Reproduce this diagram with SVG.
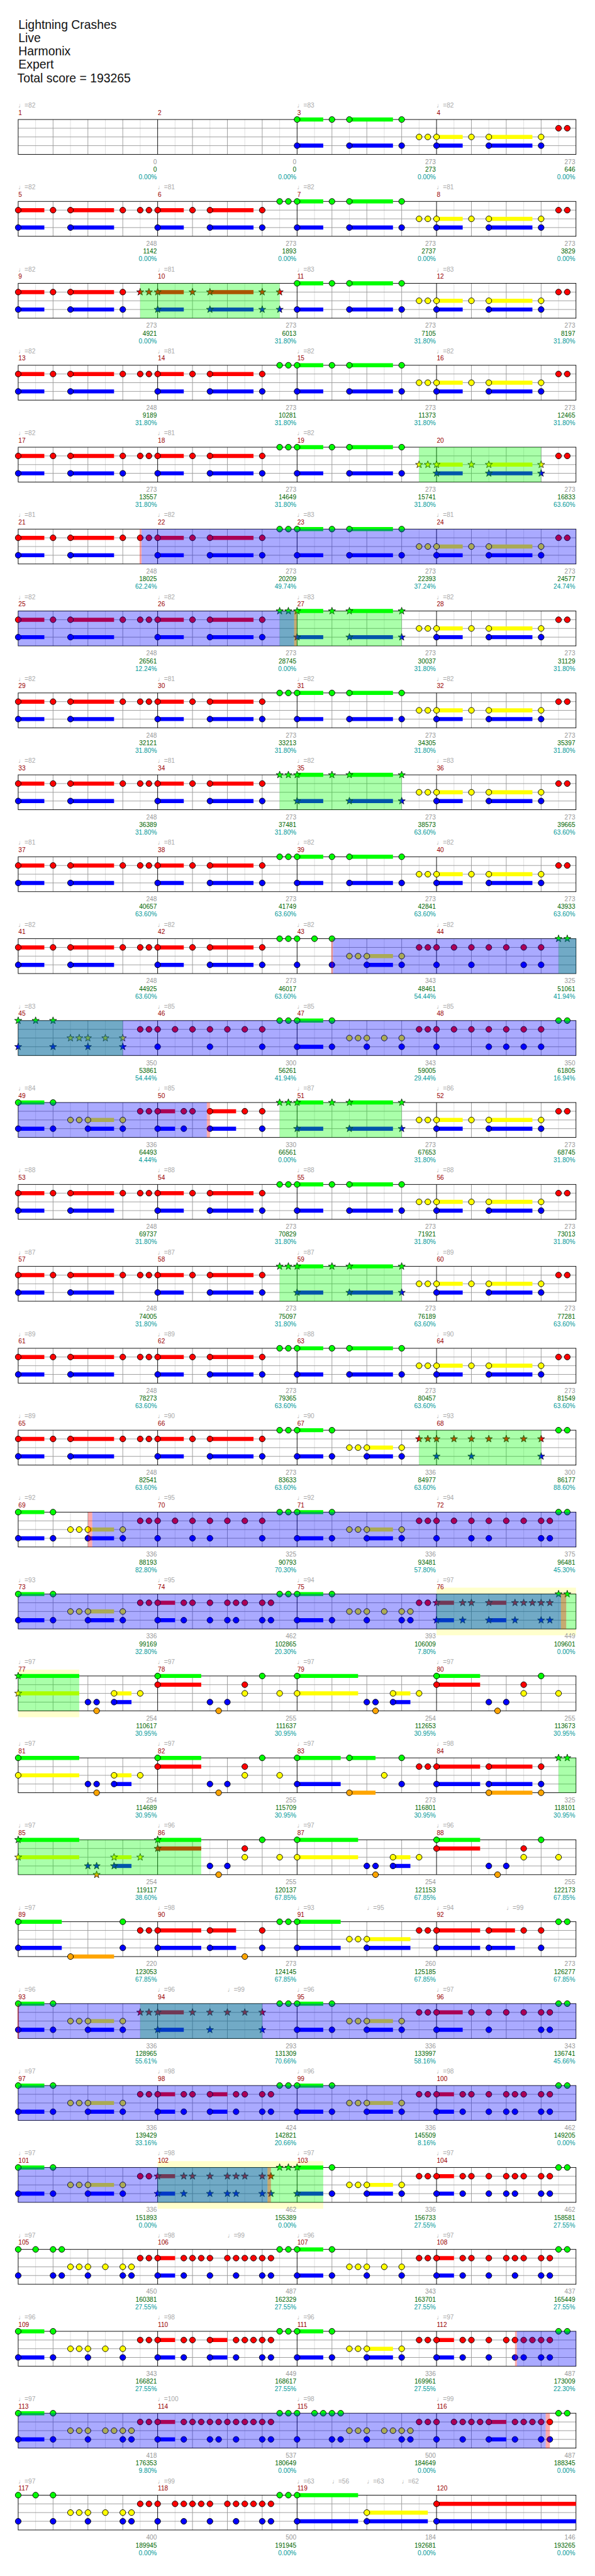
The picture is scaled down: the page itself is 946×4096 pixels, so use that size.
<svg xmlns="http://www.w3.org/2000/svg" width="946" height="4096" viewBox="0 0 946 4096">
<style>
circle{stroke:#000;stroke-width:1}
.k{stroke:#000;stroke-width:.8}
.hg,.hr,.hy,.hb,.ho{fill:none;stroke-width:7}
.hg{stroke:#0f0}.hr{stroke:#f00}.hy{stroke:#ff0}.hb{stroke:#00f}.ho{stroke:#ffa500}
.og{fill:#0f0;fill-opacity:.333}.ob{fill:#00f;fill-opacity:.333}.or{fill:#f00;fill-opacity:.333}.solo{fill:#ffc}
.t,.n,.a,.h{font-family:"Liberation Sans",Arial,sans-serif;font-size:11px}
.t{fill:#aaa}.n{fill:#900}.a{fill:#999;text-anchor:end}.c{fill:#060}.p{fill:#099}
.h{font-size:21px;fill:#111}
</style>
<defs>
<circle id="G" r="5" fill="#0f0"/>
<circle id="R" cy="15" r="5" fill="#f00"/>
<circle id="Y" cy="30" r="5" fill="#ff0"/>
<circle id="B" cy="45" r="5" fill="#00f"/>
<circle id="O" cy="60" r="5" fill="#ffa500"/>
<path id="sg" class="k" fill="#0f0" d="M0-6.5l1.53 4.4 4.65.09-3.71 2.81 1.35 4.46-3.82-2.66-3.82 2.66 1.35-4.46-3.71-2.81 4.65-.09z"/>
<path id="sr" class="k" fill="#f00" d="M0 8.5l1.53 4.4 4.65.09-3.71 2.81 1.35 4.46-3.82-2.66-3.82 2.66 1.35-4.46-3.71-2.81 4.65-.09z"/>
<path id="sy" class="k" fill="#ff0" d="M0 23.5l1.53 4.4 4.65.09-3.71 2.81 1.35 4.46-3.82-2.66-3.82 2.66 1.35-4.46-3.71-2.81 4.65-.09z"/>
<path id="sb" class="k" fill="#00f" d="M0 38.5l1.53 4.4 4.65.09-3.71 2.81 1.35 4.46-3.82-2.66-3.82 2.66 1.35-4.46-3.71-2.81 4.65-.09z"/>
<path id="so" class="k" fill="#ffa500" d="M0 53.5l1.53 4.4 4.65.09-3.71 2.81 1.35 4.46-3.82-2.66-3.82 2.66 1.35-4.46-3.71-2.81 4.65-.09z"/>
<g id="staff"><rect width="960" height="60" fill="#fff"/><path stroke="#ddd" d="M30 0v60M90 0v60M150 0v60M210 0v60M270 0v60M330 0v60M390 0v60M450 0v60M510 0v60M570 0v60M630 0v60M690 0v60M750 0v60M810 0v60M870 0v60M930 0v60"/><path stroke="#999" d="M60 0v60M120 0v60M180 0v60M300 0v60M360 0v60M420 0v60M540 0v60M600 0v60M660 0v60M780 0v60M840 0v60M900 0v60M0 15h960M0 30h960M0 45h960"/><path stroke="#000" d="M240 0v60M480 0v60M720 0v60"/><rect width="960" height="60" fill="none" stroke="#000"/></g>
<g id="cRB"><path class="hr" d="M0 15h45M90 15h75"/><path class="hb" d="M0 45h45M90 45h75"/><use href="#R"/><use href="#R" x="60"/><use href="#R" x="90"/><use href="#B"/><use href="#B" x="90"/></g>
<g id="sRB"><path class="hr" d="M0 15h45M90 15h75"/><path class="hb" d="M0 45h45M90 45h75"/><use href="#sr"/><use href="#sr" x="60"/><use href="#sr" x="90"/><use href="#sb"/><use href="#sb" x="90"/></g>
<g id="cGB"><path class="hg" d="M0 0h45M90 0h75"/><path class="hb" d="M0 45h45M90 45h75"/><use href="#G"/><use href="#G" x="60"/><use href="#G" x="90"/><use href="#B"/><use href="#B" x="90"/></g>
<g id="sGB"><path class="hg" d="M0 0h45M90 0h75"/><path class="hb" d="M0 45h45M90 45h75"/><use href="#sg"/><use href="#sg" x="60"/><use href="#sg" x="90"/><use href="#sb"/><use href="#sb" x="90"/></g>
<g id="cYB"><path class="hy" d="M0 30h45M90 30h75"/><path class="hb" d="M0 45h45M90 45h75"/><use href="#Y"/><use href="#Y" x="60"/><use href="#Y" x="90"/><use href="#B"/><use href="#B" x="90"/></g>
<g id="sYB"><path class="hy" d="M0 30h45M90 30h75"/><path class="hb" d="M0 45h45M90 45h75"/><use href="#sy"/><use href="#sy" x="60"/><use href="#sy" x="90"/><use href="#sb"/><use href="#sb" x="90"/></g>
<g id="pA"><use href="#cRB"/><use href="#R" x="180"/><use href="#R" x="210"/><use href="#R" x="225"/></g>
<g id="pA2"><use href="#pA"/><use href="#B" x="180"/></g>
<g id="pB"><use href="#cRB"/><use href="#R" x="180"/><use href="#B" x="180"/><use href="#G" x="210"/><use href="#G" x="225"/></g>
<g id="pBs"><use href="#cRB"/><use href="#R" x="180"/><use href="#B" x="180"/><use href="#sg" x="210"/><use href="#sg" x="225"/></g>
<g id="pC"><use href="#cGB"/><use href="#G" x="180"/><use href="#B" x="180"/><use href="#Y" x="210"/><use href="#Y" x="225"/></g>
<g id="pCs"><use href="#sGB"/><use href="#sg" x="180"/><use href="#sb" x="180"/><use href="#Y" x="210"/><use href="#Y" x="225"/></g>
<g id="pD"><use href="#cYB"/><use href="#Y" x="180"/><use href="#B" x="180"/><use href="#R" x="210"/><use href="#R" x="225"/></g>
<g id="pE0"><path class="hg" d="M0 0h45"/><path class="hy" d="M120 30h45"/><path class="hb" d="M0 45h45M120 45h45"/><use href="#G"/><use href="#G" x="60"/><use href="#B"/><use href="#B" x="60"/><use href="#Y" x="90"/><use href="#Y" x="105"/><use href="#Y" x="120"/><use href="#Y" x="180"/><use href="#B" x="120"/><use href="#B" x="180"/></g>
<g id="pE"><use href="#pE0"/><use href="#R" x="210"/><use href="#R" x="225"/></g>
<g id="pEs"><use href="#pE0"/><use href="#sr" x="210"/><use href="#sr" x="225"/></g>
<g id="pJ"><path class="hg" d="M0 0h45"/><path class="hb" d="M0 45h45"/><use href="#G"/><use href="#G" x="60"/><use href="#B"/><use href="#B" x="60"/><use href="#Y" x="90"/><use href="#Y" x="105"/><use href="#Y" x="120"/><use href="#Y" x="150"/><use href="#Y" x="180"/><use href="#B" x="120"/><use href="#B" x="180"/><use href="#R" x="210"/><use href="#R" x="225"/></g>
<g id="pN"><path class="hr" d="M0 15h30"/><path class="hb" d="M0 45h30"/><use href="#R"/><use href="#R" x="45"/><use href="#R" x="60"/><use href="#R" x="90"/><use href="#R" x="120"/><use href="#R" x="135"/><use href="#R" x="150"/><use href="#R" x="180"/><use href="#R" x="195"/><use href="#B"/><use href="#B" x="45"/><use href="#B" x="90"/><use href="#B" x="135"/><use href="#B" x="180"/><use href="#B" x="195"/><use href="#G" x="210"/><use href="#G" x="225"/></g>
<g id="pI"><use href="#pN"/><use href="#B" x="120"/></g>
<g id="pK"><path class="hr" d="M0 15h30M90 15h30"/><path class="hb" d="M0 45h30M90 45h30"/><use href="#R"/><use href="#R" x="45"/><use href="#R" x="60"/><use href="#R" x="90"/><use href="#R" x="135"/><use href="#R" x="150"/><use href="#R" x="180"/><use href="#R" x="195"/><use href="#B"/><use href="#B" x="45"/><use href="#B" x="90"/><use href="#B" x="135"/><use href="#B" x="180"/><use href="#B" x="195"/><use href="#G" x="210"/><use href="#G" x="225"/></g>
<g id="pL"><use href="#G"/><use href="#G" x="30"/><use href="#G" x="60"/><use href="#B"/><use href="#B" x="60"/><use href="#Y" x="90"/><use href="#Y" x="105"/><use href="#Y" x="120"/><use href="#Y" x="150"/><use href="#Y" x="180"/><use href="#Y" x="195"/><use href="#B" x="120"/><use href="#B" x="180"/><use href="#B" x="195"/><use href="#R" x="210"/><use href="#R" x="225"/></g>
<g id="pF1"><path class="hy" d="M165 30h30"/><path class="hb" d="M165 45h30"/><use href="#B" x="120"/><use href="#B" x="135"/><use href="#O" x="135"/><use href="#Y" x="165"/><use href="#B" x="165"/><use href="#Y" x="210"/></g>
<g id="pF"><path class="hg" d="M0 0h105"/><path class="hy" d="M0 30h105"/><use href="#G"/><use href="#Y"/><use href="#pF1"/></g>
<g id="pH1"><use href="#B" x="90"/><use href="#B" x="120"/><use href="#O" x="105"/><use href="#R" x="150"/><use href="#Y" x="150"/><use href="#G" x="180"/><use href="#Y" x="210"/></g>
<g id="pH"><path class="hg" d="M0 0h75"/><path class="hr" d="M0 15h75"/><use href="#G"/><use href="#R"/><use href="#pH1"/></g>
<g id="r8"><use href="#R"/><use href="#R" x="30"/><use href="#R" x="60"/><use href="#R" x="90"/><use href="#R" x="120"/><use href="#R" x="150"/><use href="#R" x="180"/></g>
<g id="s8"><use href="#sr"/><use href="#sr" x="30"/><use href="#sr" x="60"/><use href="#sr" x="90"/><use href="#sr" x="120"/><use href="#sr" x="150"/><use href="#sr" x="180"/></g>
</defs>
<rect width="946" height="4096" fill="#fff"/>
<g transform="translate(28.92,190.03) scale(0.9238)">
<g id="title">
<text class="h" x=".4" y="-155.7">Lightning Crashes</text>
<text class="h" x=".4" y="-133.4">Live</text>
<text class="h" x=".4" y="-110.4">Harmonix</text>
<text class="h" x=".4" y="-87.4">Expert</text>
<text class="h" x="-1.6" y="-64">Total score = 193265</text>
</g>
<g id="solo">
<rect class="solo" x="720" y="2527" width="240" height="82"/>
<rect class="solo" x="0" y="2668" width="105" height="82"/>
<rect class="solo" x="240" y="3514" width="285" height="82"/>
</g>
<g id="staves">
<use href="#staff"/><use href="#staff" y="141"/><use href="#staff" y="282"/><use href="#staff" y="423"/><use href="#staff" y="564"/><use href="#staff" y="705"/><use href="#staff" y="846"/><use href="#staff" y="987"/><use href="#staff" y="1128"/><use href="#staff" y="1269"/><use href="#staff" y="1410"/><use href="#staff" y="1551"/><use href="#staff" y="1692"/><use href="#staff" y="1833"/><use href="#staff" y="1974"/><use href="#staff" y="2115"/><use href="#staff" y="2256"/><use href="#staff" y="2397"/><use href="#staff" y="2538"/><use href="#staff" y="2679"/><use href="#staff" y="2820"/><use href="#staff" y="2961"/><use href="#staff" y="3102"/><use href="#staff" y="3243"/><use href="#staff" y="3384"/><use href="#staff" y="3525"/><use href="#staff" y="3666"/><use href="#staff" y="3807"/><use href="#staff" y="3948"/><use href="#staff" y="4089"/>
</g>
<g id="notes">
<use id="m3" href="#pC" x="480"/>
<use id="m4" href="#pD" x="720"/>
<use id="m5" href="#pA" y="141"/>
<use id="m6" href="#pB" x="240" y="141"/>
<use id="m7" href="#pC" x="480" y="141"/>
<use id="m8" href="#pD" x="720" y="141"/>
<g id="m9" transform="translate(0,282)"><use href="#cRB"/><use href="#R" x="180"/><use href="#B" x="180"/><use href="#sr" x="210"/><use href="#sr" x="225"/></g>
<g id="m10" transform="translate(240,282)"><use href="#sRB"/><use href="#sr" x="180"/><use href="#sb" x="180"/><use href="#sr" x="210"/><use href="#sb" x="210"/></g>
<use id="m11" href="#pC" x="480" y="282"/>
<use id="m12" href="#pD" x="720" y="282"/>
<use id="m13" href="#pA" y="423"/>
<use id="m14" href="#pB" x="240" y="423"/>
<use id="m15" href="#pC" x="480" y="423"/>
<use id="m16" href="#pD" x="720" y="423"/>
<use id="m17" href="#pA2" y="564"/>
<use id="m18" href="#pB" x="240" y="564"/>
<g id="m19" transform="translate(480,564)"><use href="#cGB"/><use href="#G" x="180"/><use href="#B" x="180"/><use href="#sy" x="210"/><use href="#sy" x="225"/></g>
<g id="m20" transform="translate(720,564)"><use href="#sYB"/><use href="#sy" x="180"/><use href="#sb" x="180"/><use href="#R" x="210"/><use href="#R" x="225"/></g>
<use id="m21" href="#pA" y="705"/>
<use id="m22" href="#pB" x="240" y="705"/>
<use id="m23" href="#pC" x="480" y="705"/>
<use id="m24" href="#pD" x="720" y="705"/>
<use id="m25" href="#pA" y="846"/>
<use id="m26" href="#pBs" x="240" y="846"/>
<use id="m27" href="#pCs" x="480" y="846"/>
<use id="m28" href="#pD" x="720" y="846"/>
<use id="m29" href="#pA" y="987"/>
<use id="m30" href="#pB" x="240" y="987"/>
<use id="m31" href="#pC" x="480" y="987"/>
<use id="m32" href="#pD" x="720" y="987"/>
<use id="m33" href="#pA" y="1128"/>
<use id="m34" href="#pBs" x="240" y="1128"/>
<use id="m35" href="#pCs" x="480" y="1128"/>
<use id="m36" href="#pD" x="720" y="1128"/>
<use id="m37" href="#pA" y="1269"/>
<use id="m38" href="#pB" x="240" y="1269"/>
<use id="m39" href="#pC" x="480" y="1269"/>
<use id="m40" href="#pD" x="720" y="1269"/>
<use id="m41" href="#pA" y="1410"/>
<use id="m42" href="#pB" x="240" y="1410"/>
<g id="m43" transform="translate(480,1410)"><path class="hy" d="M120 30h45"/><path class="hb" d="M120 45h45"/><use href="#G"/><use href="#G" x="30"/><use href="#G" x="60"/><use href="#B"/><use href="#B" x="60"/><use href="#Y" x="90"/><use href="#Y" x="105"/><use href="#Y" x="120"/><use href="#Y" x="180"/><use href="#B" x="120"/><use href="#B" x="180"/><use href="#R" x="210"/><use href="#R" x="225"/></g>
<g id="m44" transform="translate(720,1410)"><use href="#r8"/><use href="#B"/><use href="#B" x="60"/><use href="#B" x="150"/><use href="#B" x="180"/><use href="#sg" x="210"/><use href="#sg" x="225"/></g>
<g id="m45" transform="translate(0,1551)"><use href="#sg"/><use href="#sg" x="30"/><use href="#sg" x="60"/><use href="#sy" x="90"/><use href="#sy" x="105"/><use href="#sy" x="120"/><use href="#sy" x="150"/><use href="#sy" x="180"/><use href="#sb"/><use href="#sb" x="60"/><use href="#sb" x="120"/><use href="#sb" x="180"/><use href="#R" x="210"/><use href="#R" x="225"/></g>
<g id="m46" transform="translate(240,1551)"><use href="#r8"/><use href="#B"/><use href="#B" x="90"/><use href="#B" x="180"/><use href="#G" x="210"/><use href="#G" x="225"/></g>
<use id="m47" href="#pJ" x="480" y="1551"/>
<g id="m48" transform="translate(720,1551)"><use href="#r8"/><use href="#B"/><use href="#B" x="90"/><use href="#B" x="120"/><use href="#B" x="150"/><use href="#B" x="180"/><use href="#G" x="210"/><use href="#G" x="225"/></g>
<use id="m49" href="#pE" y="1692"/>
<g id="m50" transform="translate(240,1692)"><path class="hr" d="M0 15h30M90 15h45"/><path class="hb" d="M0 45h30M90 45h45"/><use href="#R"/><use href="#R" x="45"/><use href="#R" x="60"/><use href="#R" x="90"/><use href="#R" x="150"/><use href="#R" x="180"/><use href="#B"/><use href="#B" x="45"/><use href="#B" x="90"/><use href="#B" x="180"/><use href="#sg" x="210"/><use href="#sg" x="225"/></g>
<use id="m51" href="#pCs" x="480" y="1692"/>
<use id="m52" href="#pD" x="720" y="1692"/>
<use id="m53" href="#pA" y="1833"/>
<use id="m54" href="#pB" x="240" y="1833"/>
<use id="m55" href="#pC" x="480" y="1833"/>
<use id="m56" href="#pD" x="720" y="1833"/>
<use id="m57" href="#pA" y="1974"/>
<use id="m58" href="#pBs" x="240" y="1974"/>
<use id="m59" href="#pCs" x="480" y="1974"/>
<use id="m60" href="#pD" x="720" y="1974"/>
<use id="m61" href="#pA" y="2115"/>
<use id="m62" href="#pB" x="240" y="2115"/>
<use id="m63" href="#pC" x="480" y="2115"/>
<use id="m64" href="#pD" x="720" y="2115"/>
<use id="m65" href="#pA" y="2256"/>
<use id="m66" href="#pB" x="240" y="2256"/>
<use id="m67" href="#pEs" x="480" y="2256"/>
<g id="m68" transform="translate(720,2256)"><use href="#s8"/><use href="#sb"/><use href="#sb" x="60"/><use href="#sb" x="180"/><use href="#G" x="210"/><use href="#G" x="225"/></g>
<use id="m69" href="#pE" y="2397"/>
<g id="m70" transform="translate(240,2397)"><use href="#r8"/><use href="#B"/><use href="#B" x="60"/><use href="#B" x="90"/><use href="#B" x="180"/><use href="#G" x="210"/><use href="#G" x="225"/></g>
<use id="m71" href="#pE" x="480" y="2397"/>
<g id="m72" transform="translate(720,2397)"><use href="#r8"/><use href="#R" x="195"/><use href="#B"/><use href="#B" x="60"/><use href="#B" x="90"/><use href="#B" x="180"/><use href="#B" x="195"/><use href="#G" x="210"/><use href="#G" x="225"/></g>
<use id="m73" href="#pE" y="2538"/>
<use id="m74" href="#pI" x="240" y="2538"/>
<g id="m75" transform="translate(480,2538)"><use href="#pJ"/><use href="#Y" x="195"/><use href="#B" x="195"/></g>
<g id="m76" transform="translate(720,2538)"><path class="hr" d="M0 15h30M90 15h30"/><path class="hb" d="M0 45h30M90 45h30"/><use href="#sr"/><use href="#sr" x="45"/><use href="#sr" x="60"/><use href="#sr" x="90"/><use href="#sr" x="135"/><use href="#sr" x="150"/><use href="#sr" x="165"/><use href="#sr" x="180"/><use href="#sr" x="195"/><use href="#sb"/><use href="#sb" x="45"/><use href="#sb" x="90"/><use href="#sb" x="135"/><use href="#sb" x="180"/><use href="#sb" x="195"/><use href="#sg" x="210"/><use href="#sg" x="225"/></g>
<g id="m77" transform="translate(0,2679)"><path class="hg" d="M0 0h105"/><path class="hy" d="M0 30h105"/><use href="#sg"/><use href="#sy"/><use href="#pF1"/></g>
<use id="m78" href="#pH" x="240" y="2679"/>
<use id="m79" href="#pF" x="480" y="2679"/>
<use id="m80" href="#pH" x="720" y="2679"/>
<use id="m81" href="#pF" y="2820"/>
<use id="m82" href="#pH" x="240" y="2820"/>
<g id="m83" transform="translate(480,2820)"><path class="hg" d="M0 0h75M90 0h45"/><path class="hb" d="M0 45h75"/><path class="ho" d="M90 60h45"/><use href="#G"/><use href="#G" x="90"/><use href="#G" x="180"/><use href="#B"/><use href="#B" x="180"/><use href="#O" x="90"/><use href="#Y" x="150"/><use href="#R" x="210"/><use href="#R" x="225"/></g>
<g id="m84" transform="translate(720,2820)"><path class="hr" d="M0 15h75M90 15h75"/><path class="hb" d="M0 45h75M90 45h75"/><path class="ho" d="M90 60h75"/><use href="#R"/><use href="#R" x="90"/><use href="#R" x="180"/><use href="#B"/><use href="#B" x="90"/><use href="#B" x="180"/><use href="#O" x="90"/><use href="#O" x="180"/><use href="#sg" x="210"/><use href="#sg" x="225"/></g>
<g id="m85" transform="translate(0,2961)"><path class="hg" d="M0 0h105"/><path class="hy" d="M0 30h105M165 30h30"/><path class="hb" d="M165 45h30"/><use href="#sg"/><use href="#sy"/><use href="#sb" x="120"/><use href="#sb" x="135"/><use href="#so" x="135"/><use href="#sy" x="165"/><use href="#sb" x="165"/><use href="#sy" x="210"/></g>
<g id="m86" transform="translate(240,2961)"><path class="hg" d="M0 0h75"/><path class="hr" d="M0 15h75"/><use href="#sg"/><use href="#sr"/><use href="#pH1"/></g>
<use id="m87" href="#pF" x="480" y="2961"/>
<use id="m88" href="#pH" x="720" y="2961"/>
<g id="m89" transform="translate(0,3102)"><path class="hg" d="M0 0h75"/><path class="hb" d="M0 45h75"/><path class="ho" d="M90 60h75"/><use href="#G"/><use href="#G" x="180"/><use href="#B"/><use href="#B" x="180"/><use href="#O" x="90"/><use href="#R" x="210"/><use href="#R" x="225"/></g>
<g id="m90" transform="translate(240,3102)"><path class="hr" d="M0 15h75M90 15h45"/><path class="hb" d="M0 45h75M90 45h45"/><use href="#R"/><use href="#R" x="90"/><use href="#R" x="180"/><use href="#B"/><use href="#B" x="90"/><use href="#B" x="180"/><use href="#O" x="150"/><use href="#G" x="210"/><use href="#G" x="225"/></g>
<g id="m91" transform="translate(480,3102)"><path class="hg" d="M0 0h75"/><path class="hy" d="M120 30h75"/><path class="hb" d="M0 45h75M120 45h75"/><use href="#G"/><use href="#B"/><use href="#B" x="120"/><use href="#Y" x="90"/><use href="#Y" x="105"/><use href="#Y" x="120"/><use href="#R" x="210"/><use href="#R" x="225"/></g>
<g id="m92" transform="translate(720,3102)"><path class="hr" d="M0 15h75M90 15h45"/><path class="hb" d="M0 45h75M90 45h45"/><use href="#R"/><use href="#R" x="90"/><use href="#R" x="150"/><use href="#R" x="180"/><use href="#B"/><use href="#B" x="90"/><use href="#B" x="180"/><use href="#G" x="210"/><use href="#G" x="225"/></g>
<use id="m93" href="#pEs" y="3243"/>
<g id="m94" transform="translate(240,3243)"><path class="hr" d="M0 15h45"/><path class="hb" d="M0 45h45"/><use href="#sr"/><use href="#sr" x="60"/><use href="#sr" x="90"/><use href="#sr" x="120"/><use href="#sr" x="150"/><use href="#sr" x="180"/><use href="#sb"/><use href="#sb" x="90"/><use href="#sb" x="180"/><use href="#G" x="210"/><use href="#G" x="225"/></g>
<use id="m95" href="#pE" x="480" y="3243"/>
<g id="m96" transform="translate(720,3243)"><path class="hr" d="M0 15h45"/><path class="hb" d="M0 45h45"/><use href="#R"/><use href="#R" x="60"/><use href="#R" x="90"/><use href="#R" x="120"/><use href="#R" x="150"/><use href="#R" x="180"/><use href="#R" x="195"/><use href="#B"/><use href="#B" x="90"/><use href="#B" x="180"/><use href="#B" x="195"/><use href="#G" x="210"/><use href="#G" x="225"/></g>
<use id="m97" href="#pE" y="3384"/>
<use id="m98" href="#pK" x="240" y="3384"/>
<use id="m99" href="#pE" x="480" y="3384"/>
<use id="m100" href="#pI" x="720" y="3384"/>
<use id="m101" href="#pE" y="3525"/>
<g id="m102" transform="translate(240,3525)"><path class="hr" d="M0 15h30"/><path class="hb" d="M0 45h30"/><use href="#sr"/><use href="#sr" x="45"/><use href="#sr" x="60"/><use href="#sr" x="90"/><use href="#sr" x="120"/><use href="#sr" x="135"/><use href="#sr" x="150"/><use href="#sr" x="180"/><use href="#sr" x="195"/><use href="#sb"/><use href="#sb" x="45"/><use href="#sb" x="90"/><use href="#sb" x="120"/><use href="#sb" x="135"/><use href="#sb" x="180"/><use href="#sb" x="195"/><use href="#sg" x="210"/><use href="#sg" x="225"/></g>
<g id="m103" transform="translate(480,3525)"><path class="hg" d="M0 0h45"/><path class="hy" d="M120 30h45"/><path class="hb" d="M0 45h45M120 45h45"/><use href="#sg"/><use href="#G" x="60"/><use href="#sb"/><use href="#B" x="60"/><use href="#Y" x="90"/><use href="#Y" x="105"/><use href="#Y" x="120"/><use href="#Y" x="180"/><use href="#B" x="120"/><use href="#B" x="180"/><use href="#R" x="210"/><use href="#R" x="225"/></g>
<use id="m104" href="#pI" x="720" y="3525"/>
<g id="m105" transform="translate(0,3666)"><use href="#pL"/><use href="#G" x="75"/><use href="#B" x="75"/></g>
<g id="m106" transform="translate(240,3666)"><use href="#pN"/><use href="#R" x="75"/><use href="#R" x="165"/></g>
<use id="m107" href="#pJ" x="480" y="3666"/>
<use id="m108" href="#pN" x="720" y="3666"/>
<use id="m109" href="#pJ" y="3807"/>
<g id="m110" transform="translate(240,3807)"><use href="#pK"/><use href="#R" x="165"/></g>
<use id="m111" href="#pE" x="480" y="3807"/>
<g id="m112" transform="translate(720,3807)"><use href="#pN"/><use href="#R" x="165"/><use href="#B" x="150"/></g>
<g id="m113" transform="translate(0,3948)"><use href="#pJ"/><use href="#Y" x="165"/><use href="#Y" x="195"/><use href="#B" x="195"/></g>
<g id="m114" transform="translate(240,3948)"><use href="#pN"/><use href="#R" x="75"/><use href="#R" x="105"/><use href="#R" x="165"/><use href="#B" x="105"/></g>
<g id="m115" transform="translate(480,3948)"><use href="#pL"/><use href="#G" x="45"/><use href="#G" x="75"/><use href="#B" x="75"/><use href="#Y" x="165"/></g>
<g id="m116" transform="translate(720,3948)"><path class="hr" d="M90 15h30"/><path class="hb" d="M90 45h30"/><use href="#R"/><use href="#R" x="30"/><use href="#R" x="45"/><use href="#R" x="60"/><use href="#R" x="75"/><use href="#R" x="90"/><use href="#R" x="135"/><use href="#R" x="150"/><use href="#R" x="165"/><use href="#R" x="180"/><use href="#R" x="195"/><use href="#B"/><use href="#B" x="45"/><use href="#B" x="90"/><use href="#B" x="135"/><use href="#B" x="180"/><use href="#B" x="195"/><use href="#G" x="210"/><use href="#G" x="225"/></g>
<use id="m117" href="#pL" y="4089"/>
<g id="m118" transform="translate(240,4089)"><use href="#R"/><use href="#R" x="30"/><use href="#R" x="45"/><use href="#R" x="60"/><use href="#R" x="75"/><use href="#R" x="90"/><use href="#R" x="120"/><use href="#R" x="135"/><use href="#R" x="150"/><use href="#R" x="165"/><use href="#R" x="180"/><use href="#R" x="195"/><use href="#B"/><use href="#B" x="45"/><use href="#B" x="90"/><use href="#B" x="135"/><use href="#B" x="180"/><use href="#B" x="195"/><use href="#G" x="210"/><use href="#G" x="225"/></g>
<g id="m119" transform="translate(480,4089)"><path class="hg" d="M0 0h105"/><path class="hy" d="M120 30h105"/><path class="hb" d="M0 45h105M120 45h105"/><use href="#G"/><use href="#B"/><use href="#Y" x="120"/><use href="#B" x="120"/></g>
<g id="m120" transform="translate(720,4089)"><path class="hr" d="M0 15h240"/><path class="hb" d="M0 45h240"/><use href="#R"/><use href="#B"/></g>
</g>
<g id="overlays">
<rect class="og" x="210" y="282" width="240" height="60"/>
<rect class="og" x="690" y="564" width="210" height="60"/>
<rect class="og" x="450" y="846" width="210" height="60"/>
<rect class="og" x="450" y="1128" width="210" height="60"/>
<rect class="og" x="930" y="1410" width="30" height="60"/>
<rect class="og" x="0" y="1551" width="180" height="60"/>
<rect class="og" x="450" y="1692" width="210" height="60"/>
<rect class="og" x="450" y="1974" width="210" height="60"/>
<rect class="og" x="690" y="2256" width="210" height="60"/>
<rect class="og" x="720" y="2538" width="240" height="60"/>
<rect class="og" x="0" y="2679" width="105" height="60"/>
<rect class="og" x="930" y="2820" width="30" height="60"/>
<rect class="og" x="0" y="2961" width="315" height="60"/>
<rect class="og" x="210" y="3243" width="210" height="60"/>
<rect class="og" x="240" y="3525" width="285" height="60"/>
<rect class="ob" x="212.3" y="705" width="747.7" height="60"/>
<rect class="ob" x="0" y="846" width="474.9" height="60"/>
<rect class="ob" x="541.7" y="1410" width="418.3" height="60"/>
<rect class="ob" x="0" y="1551" width="960" height="60"/>
<rect class="ob" x="0" y="1692" width="324.7" height="60"/>
<rect class="ob" x="127.4" y="2397" width="832.6" height="60"/>
<rect class="ob" x="0" y="2538" width="934.1" height="60"/>
<rect class="ob" x="0" y="3243" width="960" height="60"/>
<rect class="ob" x="0" y="3384" width="960" height="60"/>
<rect class="ob" x="0" y="3525" width="429.1" height="60"/>
<rect class="ob" x="858.3" y="3807" width="101.7" height="60"/>
<rect class="ob" x="0" y="3948" width="907.9" height="60"/>
<rect class="or" x="209" y="705" width="3.3" height="60"/>
<rect class="or" x="474.9" y="846" width="4.5" height="60"/>
<rect class="or" x="538.9" y="1410" width="2.8" height="60"/>
<rect class="or" x="324.7" y="1692" width="5.1" height="60"/>
<rect class="or" x="120.2" y="2397" width="7.2" height="60"/>
<rect class="or" x="934.1" y="2538" width="9.1" height="60"/>
<rect class="or" x="-1.3" y="3243" width="2.6" height="60"/>
<rect class="or" x="429.1" y="3525" width="5.9" height="60"/>
<rect class="or" x="855" y="3807" width="3.3" height="60"/>
<rect class="or" x="907.9" y="3948" width="7.2" height="60"/>
</g>
<g id="labels">
<g><text class="t" y="-20.5"><tspan x="0">♩=82</tspan><tspan x="480">♩=83</tspan><tspan x="720">♩=82</tspan></text><text class="n" y="-8"><tspan x=".4">1</tspan><tspan x="240.4">2</tspan><tspan x="480.4">3</tspan><tspan x="720.4">4</tspan></text><text class="a" y="76.6"><tspan x="238.7">0</tspan><tspan x="478.7">0</tspan><tspan x="718.7">273</tspan><tspan x="958.7">273</tspan></text><text class="a c" y="90"><tspan x="238.7">0</tspan><tspan x="478.7">0</tspan><tspan x="718.7">273</tspan><tspan x="958.7">646</tspan></text><text class="a p" y="103"><tspan x="238.7">0.00%</tspan><tspan x="478.7">0.00%</tspan><tspan x="718.7">0.00%</tspan><tspan x="958.7">0.00%</tspan></text></g>
<g transform="translate(0,141)"><text class="t" y="-20.5"><tspan x="0">♩=82</tspan><tspan x="240">♩=81</tspan><tspan x="480">♩=82</tspan><tspan x="720">♩=81</tspan></text><text class="n" y="-8"><tspan x=".4">5</tspan><tspan x="240.4">6</tspan><tspan x="480.4">7</tspan><tspan x="720.4">8</tspan></text><text class="a" y="76.6"><tspan x="238.7">248</tspan><tspan x="478.7">273</tspan><tspan x="718.7">273</tspan><tspan x="958.7">273</tspan></text><text class="a c" y="90"><tspan x="238.7">1142</tspan><tspan x="478.7">1893</tspan><tspan x="718.7">2737</tspan><tspan x="958.7">3829</tspan></text><text class="a p" y="103"><tspan x="238.7">0.00%</tspan><tspan x="478.7">0.00%</tspan><tspan x="718.7">0.00%</tspan><tspan x="958.7">0.00%</tspan></text></g>
<g transform="translate(0,282)"><text class="t" y="-20.5"><tspan x="0">♩=82</tspan><tspan x="240">♩=81</tspan><tspan x="480">♩=83</tspan><tspan x="720">♩=83</tspan></text><text class="n" y="-8"><tspan x=".4">9</tspan><tspan x="240.4">10</tspan><tspan x="480.4">11</tspan><tspan x="720.4">12</tspan></text><text class="a" y="76.6"><tspan x="238.7">273</tspan><tspan x="478.7">273</tspan><tspan x="718.7">273</tspan><tspan x="958.7">273</tspan></text><text class="a c" y="90"><tspan x="238.7">4921</tspan><tspan x="478.7">6013</tspan><tspan x="718.7">7105</tspan><tspan x="958.7">8197</tspan></text><text class="a p" y="103"><tspan x="238.7">0.00%</tspan><tspan x="478.7">31.80%</tspan><tspan x="718.7">31.80%</tspan><tspan x="958.7">31.80%</tspan></text></g>
<g transform="translate(0,423)"><text class="t" y="-20.5"><tspan x="0">♩=82</tspan><tspan x="240">♩=81</tspan><tspan x="480">♩=82</tspan><tspan x="720">♩=82</tspan></text><text class="n" y="-8"><tspan x=".4">13</tspan><tspan x="240.4">14</tspan><tspan x="480.4">15</tspan><tspan x="720.4">16</tspan></text><text class="a" y="76.6"><tspan x="238.7">248</tspan><tspan x="478.7">273</tspan><tspan x="718.7">273</tspan><tspan x="958.7">273</tspan></text><text class="a c" y="90"><tspan x="238.7">9189</tspan><tspan x="478.7">10281</tspan><tspan x="718.7">11373</tspan><tspan x="958.7">12465</tspan></text><text class="a p" y="103"><tspan x="238.7">31.80%</tspan><tspan x="478.7">31.80%</tspan><tspan x="718.7">31.80%</tspan><tspan x="958.7">31.80%</tspan></text></g>
<g transform="translate(0,564)"><text class="t" y="-20.5"><tspan x="0">♩=82</tspan><tspan x="240">♩=81</tspan><tspan x="480">♩=82</tspan></text><text class="n" y="-8"><tspan x=".4">17</tspan><tspan x="240.4">18</tspan><tspan x="480.4">19</tspan><tspan x="720.4">20</tspan></text><text class="a" y="76.6"><tspan x="238.7">273</tspan><tspan x="478.7">273</tspan><tspan x="718.7">273</tspan><tspan x="958.7">273</tspan></text><text class="a c" y="90"><tspan x="238.7">13557</tspan><tspan x="478.7">14649</tspan><tspan x="718.7">15741</tspan><tspan x="958.7">16833</tspan></text><text class="a p" y="103"><tspan x="238.7">31.80%</tspan><tspan x="478.7">31.80%</tspan><tspan x="718.7">31.80%</tspan><tspan x="958.7">63.60%</tspan></text></g>
<g transform="translate(0,705)"><text class="t" y="-20.5"><tspan x="0">♩=81</tspan><tspan x="240">♩=82</tspan><tspan x="480">♩=83</tspan><tspan x="720">♩=81</tspan></text><text class="n" y="-8"><tspan x=".4">21</tspan><tspan x="240.4">22</tspan><tspan x="480.4">23</tspan><tspan x="720.4">24</tspan></text><text class="a" y="76.6"><tspan x="238.7">248</tspan><tspan x="478.7">273</tspan><tspan x="718.7">273</tspan><tspan x="958.7">273</tspan></text><text class="a c" y="90"><tspan x="238.7">18025</tspan><tspan x="478.7">20209</tspan><tspan x="718.7">22393</tspan><tspan x="958.7">24577</tspan></text><text class="a p" y="103"><tspan x="238.7">62.24%</tspan><tspan x="478.7">49.74%</tspan><tspan x="718.7">37.24%</tspan><tspan x="958.7">24.74%</tspan></text></g>
<g transform="translate(0,846)"><text class="t" y="-20.5"><tspan x="0">♩=82</tspan><tspan x="240">♩=82</tspan><tspan x="480">♩=83</tspan><tspan x="720">♩=82</tspan></text><text class="n" y="-8"><tspan x=".4">25</tspan><tspan x="240.4">26</tspan><tspan x="480.4">27</tspan><tspan x="720.4">28</tspan></text><text class="a" y="76.6"><tspan x="238.7">248</tspan><tspan x="478.7">273</tspan><tspan x="718.7">273</tspan><tspan x="958.7">273</tspan></text><text class="a c" y="90"><tspan x="238.7">26561</tspan><tspan x="478.7">28745</tspan><tspan x="718.7">30037</tspan><tspan x="958.7">31129</tspan></text><text class="a p" y="103"><tspan x="238.7">12.24%</tspan><tspan x="478.7">0.00%</tspan><tspan x="718.7">31.80%</tspan><tspan x="958.7">31.80%</tspan></text></g>
<g transform="translate(0,987)"><text class="t" y="-20.5"><tspan x="0">♩=82</tspan><tspan x="240">♩=81</tspan><tspan x="480">♩=82</tspan><tspan x="720">♩=82</tspan></text><text class="n" y="-8"><tspan x=".4">29</tspan><tspan x="240.4">30</tspan><tspan x="480.4">31</tspan><tspan x="720.4">32</tspan></text><text class="a" y="76.6"><tspan x="238.7">248</tspan><tspan x="478.7">273</tspan><tspan x="718.7">273</tspan><tspan x="958.7">273</tspan></text><text class="a c" y="90"><tspan x="238.7">32121</tspan><tspan x="478.7">33213</tspan><tspan x="718.7">34305</tspan><tspan x="958.7">35397</tspan></text><text class="a p" y="103"><tspan x="238.7">31.80%</tspan><tspan x="478.7">31.80%</tspan><tspan x="718.7">31.80%</tspan><tspan x="958.7">31.80%</tspan></text></g>
<g transform="translate(0,1128)"><text class="t" y="-20.5"><tspan x="0">♩=82</tspan><tspan x="240">♩=81</tspan><tspan x="480">♩=82</tspan><tspan x="720">♩=83</tspan></text><text class="n" y="-8"><tspan x=".4">33</tspan><tspan x="240.4">34</tspan><tspan x="480.4">35</tspan><tspan x="720.4">36</tspan></text><text class="a" y="76.6"><tspan x="238.7">248</tspan><tspan x="478.7">273</tspan><tspan x="718.7">273</tspan><tspan x="958.7">273</tspan></text><text class="a c" y="90"><tspan x="238.7">36389</tspan><tspan x="478.7">37481</tspan><tspan x="718.7">38573</tspan><tspan x="958.7">39665</tspan></text><text class="a p" y="103"><tspan x="238.7">31.80%</tspan><tspan x="478.7">31.80%</tspan><tspan x="718.7">63.60%</tspan><tspan x="958.7">63.60%</tspan></text></g>
<g transform="translate(0,1269)"><text class="t" y="-20.5"><tspan x="0">♩=81</tspan><tspan x="240">♩=81</tspan><tspan x="480">♩=82</tspan><tspan x="720">♩=82</tspan></text><text class="n" y="-8"><tspan x=".4">37</tspan><tspan x="240.4">38</tspan><tspan x="480.4">39</tspan><tspan x="720.4">40</tspan></text><text class="a" y="76.6"><tspan x="238.7">248</tspan><tspan x="478.7">273</tspan><tspan x="718.7">273</tspan><tspan x="958.7">273</tspan></text><text class="a c" y="90"><tspan x="238.7">40657</tspan><tspan x="478.7">41749</tspan><tspan x="718.7">42841</tspan><tspan x="958.7">43933</tspan></text><text class="a p" y="103"><tspan x="238.7">63.60%</tspan><tspan x="478.7">63.60%</tspan><tspan x="718.7">63.60%</tspan><tspan x="958.7">63.60%</tspan></text></g>
<g transform="translate(0,1410)"><text class="t" y="-20.5"><tspan x="0">♩=82</tspan><tspan x="240">♩=82</tspan><tspan x="480">♩=82</tspan><tspan x="720">♩=82</tspan></text><text class="n" y="-8"><tspan x=".4">41</tspan><tspan x="240.4">42</tspan><tspan x="480.4">43</tspan><tspan x="720.4">44</tspan></text><text class="a" y="76.6"><tspan x="238.7">248</tspan><tspan x="478.7">273</tspan><tspan x="718.7">343</tspan><tspan x="958.7">325</tspan></text><text class="a c" y="90"><tspan x="238.7">44925</tspan><tspan x="478.7">46017</tspan><tspan x="718.7">48461</tspan><tspan x="958.7">51061</tspan></text><text class="a p" y="103"><tspan x="238.7">63.60%</tspan><tspan x="478.7">63.60%</tspan><tspan x="718.7">54.44%</tspan><tspan x="958.7">41.94%</tspan></text></g>
<g transform="translate(0,1551)"><text class="t" y="-20.5"><tspan x="0">♩=83</tspan><tspan x="240">♩=85</tspan><tspan x="480">♩=85</tspan><tspan x="720">♩=85</tspan></text><text class="n" y="-8"><tspan x=".4">45</tspan><tspan x="240.4">46</tspan><tspan x="480.4">47</tspan><tspan x="720.4">48</tspan></text><text class="a" y="76.6"><tspan x="238.7">350</tspan><tspan x="478.7">300</tspan><tspan x="718.7">343</tspan><tspan x="958.7">350</tspan></text><text class="a c" y="90"><tspan x="238.7">53861</tspan><tspan x="478.7">56261</tspan><tspan x="718.7">59005</tspan><tspan x="958.7">61805</tspan></text><text class="a p" y="103"><tspan x="238.7">54.44%</tspan><tspan x="478.7">41.94%</tspan><tspan x="718.7">29.44%</tspan><tspan x="958.7">16.94%</tspan></text></g>
<g transform="translate(0,1692)"><text class="t" y="-20.5"><tspan x="0">♩=84</tspan><tspan x="240">♩=85</tspan><tspan x="480">♩=87</tspan><tspan x="720">♩=86</tspan></text><text class="n" y="-8"><tspan x=".4">49</tspan><tspan x="240.4">50</tspan><tspan x="480.4">51</tspan><tspan x="720.4">52</tspan></text><text class="a" y="76.6"><tspan x="238.7">336</tspan><tspan x="478.7">330</tspan><tspan x="718.7">273</tspan><tspan x="958.7">273</tspan></text><text class="a c" y="90"><tspan x="238.7">64493</tspan><tspan x="478.7">66561</tspan><tspan x="718.7">67653</tspan><tspan x="958.7">68745</tspan></text><text class="a p" y="103"><tspan x="238.7">4.44%</tspan><tspan x="478.7">0.00%</tspan><tspan x="718.7">31.80%</tspan><tspan x="958.7">31.80%</tspan></text></g>
<g transform="translate(0,1833)"><text class="t" y="-20.5"><tspan x="0">♩=88</tspan><tspan x="240">♩=88</tspan><tspan x="480">♩=88</tspan><tspan x="720">♩=88</tspan></text><text class="n" y="-8"><tspan x=".4">53</tspan><tspan x="240.4">54</tspan><tspan x="480.4">55</tspan><tspan x="720.4">56</tspan></text><text class="a" y="76.6"><tspan x="238.7">248</tspan><tspan x="478.7">273</tspan><tspan x="718.7">273</tspan><tspan x="958.7">273</tspan></text><text class="a c" y="90"><tspan x="238.7">69737</tspan><tspan x="478.7">70829</tspan><tspan x="718.7">71921</tspan><tspan x="958.7">73013</tspan></text><text class="a p" y="103"><tspan x="238.7">31.80%</tspan><tspan x="478.7">31.80%</tspan><tspan x="718.7">31.80%</tspan><tspan x="958.7">31.80%</tspan></text></g>
<g transform="translate(0,1974)"><text class="t" y="-20.5"><tspan x="0">♩=87</tspan><tspan x="240">♩=87</tspan><tspan x="480">♩=87</tspan><tspan x="720">♩=89</tspan></text><text class="n" y="-8"><tspan x=".4">57</tspan><tspan x="240.4">58</tspan><tspan x="480.4">59</tspan><tspan x="720.4">60</tspan></text><text class="a" y="76.6"><tspan x="238.7">248</tspan><tspan x="478.7">273</tspan><tspan x="718.7">273</tspan><tspan x="958.7">273</tspan></text><text class="a c" y="90"><tspan x="238.7">74005</tspan><tspan x="478.7">75097</tspan><tspan x="718.7">76189</tspan><tspan x="958.7">77281</tspan></text><text class="a p" y="103"><tspan x="238.7">31.80%</tspan><tspan x="478.7">31.80%</tspan><tspan x="718.7">63.60%</tspan><tspan x="958.7">63.60%</tspan></text></g>
<g transform="translate(0,2115)"><text class="t" y="-20.5"><tspan x="0">♩=89</tspan><tspan x="240">♩=89</tspan><tspan x="480">♩=88</tspan><tspan x="720">♩=90</tspan></text><text class="n" y="-8"><tspan x=".4">61</tspan><tspan x="240.4">62</tspan><tspan x="480.4">63</tspan><tspan x="720.4">64</tspan></text><text class="a" y="76.6"><tspan x="238.7">248</tspan><tspan x="478.7">273</tspan><tspan x="718.7">273</tspan><tspan x="958.7">273</tspan></text><text class="a c" y="90"><tspan x="238.7">78273</tspan><tspan x="478.7">79365</tspan><tspan x="718.7">80457</tspan><tspan x="958.7">81549</tspan></text><text class="a p" y="103"><tspan x="238.7">63.60%</tspan><tspan x="478.7">63.60%</tspan><tspan x="718.7">63.60%</tspan><tspan x="958.7">63.60%</tspan></text></g>
<g transform="translate(0,2256)"><text class="t" y="-20.5"><tspan x="0">♩=89</tspan><tspan x="240">♩=90</tspan><tspan x="480">♩=90</tspan><tspan x="720">♩=93</tspan></text><text class="n" y="-8"><tspan x=".4">65</tspan><tspan x="240.4">66</tspan><tspan x="480.4">67</tspan><tspan x="720.4">68</tspan></text><text class="a" y="76.6"><tspan x="238.7">248</tspan><tspan x="478.7">273</tspan><tspan x="718.7">336</tspan><tspan x="958.7">300</tspan></text><text class="a c" y="90"><tspan x="238.7">82541</tspan><tspan x="478.7">83633</tspan><tspan x="718.7">84977</tspan><tspan x="958.7">86177</tspan></text><text class="a p" y="103"><tspan x="238.7">63.60%</tspan><tspan x="478.7">63.60%</tspan><tspan x="718.7">63.60%</tspan><tspan x="958.7">88.60%</tspan></text></g>
<g transform="translate(0,2397)"><text class="t" y="-20.5"><tspan x="0">♩=92</tspan><tspan x="240">♩=95</tspan><tspan x="480">♩=92</tspan><tspan x="720">♩=94</tspan></text><text class="n" y="-8"><tspan x=".4">69</tspan><tspan x="240.4">70</tspan><tspan x="480.4">71</tspan><tspan x="720.4">72</tspan></text><text class="a" y="76.6"><tspan x="238.7">336</tspan><tspan x="478.7">325</tspan><tspan x="718.7">336</tspan><tspan x="958.7">375</tspan></text><text class="a c" y="90"><tspan x="238.7">88193</tspan><tspan x="478.7">90793</tspan><tspan x="718.7">93481</tspan><tspan x="958.7">96481</tspan></text><text class="a p" y="103"><tspan x="238.7">82.80%</tspan><tspan x="478.7">70.30%</tspan><tspan x="718.7">57.80%</tspan><tspan x="958.7">45.30%</tspan></text></g>
<g transform="translate(0,2538)"><text class="t" y="-20.5"><tspan x="0">♩=93</tspan><tspan x="240">♩=95</tspan><tspan x="480">♩=94</tspan><tspan x="720">♩=97</tspan></text><text class="n" y="-8"><tspan x=".4">73</tspan><tspan x="240.4">74</tspan><tspan x="480.4">75</tspan><tspan x="720.4">76</tspan></text><text class="a" y="76.6"><tspan x="238.7">336</tspan><tspan x="478.7">462</tspan><tspan x="718.7">393</tspan><tspan x="958.7">449</tspan></text><text class="a c" y="90"><tspan x="238.7">99169</tspan><tspan x="478.7">102865</tspan><tspan x="718.7">106009</tspan><tspan x="958.7">109601</tspan></text><text class="a p" y="103"><tspan x="238.7">32.80%</tspan><tspan x="478.7">20.30%</tspan><tspan x="718.7">7.80%</tspan><tspan x="958.7">0.00%</tspan></text></g>
<g transform="translate(0,2679)"><text class="t" y="-20.5"><tspan x="0">♩=97</tspan><tspan x="240">♩=97</tspan><tspan x="480">♩=97</tspan><tspan x="720">♩=97</tspan></text><text class="n" y="-8"><tspan x=".4">77</tspan><tspan x="240.4">78</tspan><tspan x="480.4">79</tspan><tspan x="720.4">80</tspan></text><text class="a" y="76.6"><tspan x="238.7">254</tspan><tspan x="478.7">255</tspan><tspan x="718.7">254</tspan><tspan x="958.7">255</tspan></text><text class="a c" y="90"><tspan x="238.7">110617</tspan><tspan x="478.7">111637</tspan><tspan x="718.7">112653</tspan><tspan x="958.7">113673</tspan></text><text class="a p" y="103"><tspan x="238.7">30.95%</tspan><tspan x="478.7">30.95%</tspan><tspan x="718.7">30.95%</tspan><tspan x="958.7">30.95%</tspan></text></g>
<g transform="translate(0,2820)"><text class="t" y="-20.5"><tspan x="0">♩=97</tspan><tspan x="240">♩=97</tspan><tspan x="480">♩=97</tspan><tspan x="720">♩=98</tspan></text><text class="n" y="-8"><tspan x=".4">81</tspan><tspan x="240.4">82</tspan><tspan x="480.4">83</tspan><tspan x="720.4">84</tspan></text><text class="a" y="76.6"><tspan x="238.7">254</tspan><tspan x="478.7">255</tspan><tspan x="718.7">273</tspan><tspan x="958.7">325</tspan></text><text class="a c" y="90"><tspan x="238.7">114689</tspan><tspan x="478.7">115709</tspan><tspan x="718.7">116801</tspan><tspan x="958.7">118101</tspan></text><text class="a p" y="103"><tspan x="238.7">30.95%</tspan><tspan x="478.7">30.95%</tspan><tspan x="718.7">30.95%</tspan><tspan x="958.7">30.95%</tspan></text></g>
<g transform="translate(0,2961)"><text class="t" y="-20.5"><tspan x="0">♩=97</tspan><tspan x="240">♩=96</tspan><tspan x="480">♩=97</tspan><tspan x="720">♩=96</tspan></text><text class="n" y="-8"><tspan x=".4">85</tspan><tspan x="240.4">86</tspan><tspan x="480.4">87</tspan><tspan x="720.4">88</tspan></text><text class="a" y="76.6"><tspan x="238.7">254</tspan><tspan x="478.7">255</tspan><tspan x="718.7">254</tspan><tspan x="958.7">255</tspan></text><text class="a c" y="90"><tspan x="238.7">119117</tspan><tspan x="478.7">120137</tspan><tspan x="718.7">121153</tspan><tspan x="958.7">122173</tspan></text><text class="a p" y="103"><tspan x="238.7">38.60%</tspan><tspan x="478.7">67.85%</tspan><tspan x="718.7">67.85%</tspan><tspan x="958.7">67.85%</tspan></text></g>
<g transform="translate(0,3102)"><text class="t" y="-20.5"><tspan x="0">♩=97</tspan><tspan x="240">♩=98</tspan><tspan x="480">♩=93</tspan><tspan x="600">♩=95</tspan><tspan x="720">♩=94</tspan><tspan x="840">♩=99</tspan></text><text class="n" y="-8"><tspan x=".4">89</tspan><tspan x="240.4">90</tspan><tspan x="480.4">91</tspan><tspan x="720.4">92</tspan></text><text class="a" y="76.6"><tspan x="238.7">220</tspan><tspan x="478.7">273</tspan><tspan x="718.7">260</tspan><tspan x="958.7">273</tspan></text><text class="a c" y="90"><tspan x="238.7">123053</tspan><tspan x="478.7">124145</tspan><tspan x="718.7">125185</tspan><tspan x="958.7">126277</tspan></text><text class="a p" y="103"><tspan x="238.7">67.85%</tspan><tspan x="478.7">67.85%</tspan><tspan x="718.7">67.85%</tspan><tspan x="958.7">67.85%</tspan></text></g>
<g transform="translate(0,3243)"><text class="t" y="-20.5"><tspan x="0">♩=96</tspan><tspan x="240">♩=96</tspan><tspan x="360">♩=99</tspan><tspan x="480">♩=96</tspan><tspan x="720">♩=97</tspan></text><text class="n" y="-8"><tspan x=".4">93</tspan><tspan x="240.4">94</tspan><tspan x="480.4">95</tspan><tspan x="720.4">96</tspan></text><text class="a" y="76.6"><tspan x="238.7">336</tspan><tspan x="478.7">293</tspan><tspan x="718.7">336</tspan><tspan x="958.7">343</tspan></text><text class="a c" y="90"><tspan x="238.7">128965</tspan><tspan x="478.7">131309</tspan><tspan x="718.7">133997</tspan><tspan x="958.7">136741</tspan></text><text class="a p" y="103"><tspan x="238.7">55.61%</tspan><tspan x="478.7">70.66%</tspan><tspan x="718.7">58.16%</tspan><tspan x="958.7">45.66%</tspan></text></g>
<g transform="translate(0,3384)"><text class="t" y="-20.5"><tspan x="0">♩=97</tspan><tspan x="240">♩=98</tspan><tspan x="480">♩=96</tspan><tspan x="720">♩=98</tspan></text><text class="n" y="-8"><tspan x=".4">97</tspan><tspan x="240.4">98</tspan><tspan x="480.4">99</tspan><tspan x="720.4">100</tspan></text><text class="a" y="76.6"><tspan x="238.7">336</tspan><tspan x="478.7">424</tspan><tspan x="718.7">336</tspan><tspan x="958.7">462</tspan></text><text class="a c" y="90"><tspan x="238.7">139429</tspan><tspan x="478.7">142821</tspan><tspan x="718.7">145509</tspan><tspan x="958.7">149205</tspan></text><text class="a p" y="103"><tspan x="238.7">33.16%</tspan><tspan x="478.7">20.66%</tspan><tspan x="718.7">8.16%</tspan><tspan x="958.7">0.00%</tspan></text></g>
<g transform="translate(0,3525)"><text class="t" y="-20.5"><tspan x="0">♩=97</tspan><tspan x="240">♩=98</tspan><tspan x="480">♩=97</tspan><tspan x="720">♩=97</tspan></text><text class="n" y="-8"><tspan x=".4">101</tspan><tspan x="240.4">102</tspan><tspan x="480.4">103</tspan><tspan x="720.4">104</tspan></text><text class="a" y="76.6"><tspan x="238.7">336</tspan><tspan x="478.7">462</tspan><tspan x="718.7">336</tspan><tspan x="958.7">462</tspan></text><text class="a c" y="90"><tspan x="238.7">151893</tspan><tspan x="478.7">155389</tspan><tspan x="718.7">156733</tspan><tspan x="958.7">158581</tspan></text><text class="a p" y="103"><tspan x="238.7">0.00%</tspan><tspan x="478.7">0.00%</tspan><tspan x="718.7">27.55%</tspan><tspan x="958.7">27.55%</tspan></text></g>
<g transform="translate(0,3666)"><text class="t" y="-20.5"><tspan x="0">♩=97</tspan><tspan x="240">♩=98</tspan><tspan x="360">♩=99</tspan><tspan x="480">♩=96</tspan><tspan x="720">♩=97</tspan></text><text class="n" y="-8"><tspan x=".4">105</tspan><tspan x="240.4">106</tspan><tspan x="480.4">107</tspan><tspan x="720.4">108</tspan></text><text class="a" y="76.6"><tspan x="238.7">450</tspan><tspan x="478.7">487</tspan><tspan x="718.7">343</tspan><tspan x="958.7">437</tspan></text><text class="a c" y="90"><tspan x="238.7">160381</tspan><tspan x="478.7">162329</tspan><tspan x="718.7">163701</tspan><tspan x="958.7">165449</tspan></text><text class="a p" y="103"><tspan x="238.7">27.55%</tspan><tspan x="478.7">27.55%</tspan><tspan x="718.7">27.55%</tspan><tspan x="958.7">27.55%</tspan></text></g>
<g transform="translate(0,3807)"><text class="t" y="-20.5"><tspan x="0">♩=96</tspan><tspan x="240">♩=98</tspan><tspan x="480">♩=96</tspan><tspan x="720">♩=97</tspan></text><text class="n" y="-8"><tspan x=".4">109</tspan><tspan x="240.4">110</tspan><tspan x="480.4">111</tspan><tspan x="720.4">112</tspan></text><text class="a" y="76.6"><tspan x="238.7">343</tspan><tspan x="478.7">449</tspan><tspan x="718.7">336</tspan><tspan x="958.7">487</tspan></text><text class="a c" y="90"><tspan x="238.7">166821</tspan><tspan x="478.7">168617</tspan><tspan x="718.7">169961</tspan><tspan x="958.7">173009</tspan></text><text class="a p" y="103"><tspan x="238.7">27.55%</tspan><tspan x="478.7">27.55%</tspan><tspan x="718.7">27.55%</tspan><tspan x="958.7">22.30%</tspan></text></g>
<g transform="translate(0,3948)"><text class="t" y="-20.5"><tspan x="0">♩=97</tspan><tspan x="240">♩=100</tspan><tspan x="480">♩=98</tspan><tspan x="720">♩=99</tspan></text><text class="n" y="-8"><tspan x=".4">113</tspan><tspan x="240.4">114</tspan><tspan x="480.4">115</tspan><tspan x="720.4">116</tspan></text><text class="a" y="76.6"><tspan x="238.7">418</tspan><tspan x="478.7">537</tspan><tspan x="718.7">500</tspan><tspan x="958.7">487</tspan></text><text class="a c" y="90"><tspan x="238.7">176353</tspan><tspan x="478.7">180649</tspan><tspan x="718.7">184649</tspan><tspan x="958.7">188345</tspan></text><text class="a p" y="103"><tspan x="238.7">9.80%</tspan><tspan x="478.7">0.00%</tspan><tspan x="718.7">0.00%</tspan><tspan x="958.7">0.00%</tspan></text></g>
<g transform="translate(0,4089)"><text class="t" y="-20.5"><tspan x="0">♩=97</tspan><tspan x="240">♩=99</tspan><tspan x="480">♩=63</tspan><tspan x="540">♩=56</tspan><tspan x="600">♩=63</tspan><tspan x="660">♩=62</tspan></text><text class="n" y="-8"><tspan x=".4">117</tspan><tspan x="240.4">118</tspan><tspan x="480.4">119</tspan><tspan x="720.4">120</tspan></text><text class="a" y="76.6"><tspan x="238.7">400</tspan><tspan x="478.7">500</tspan><tspan x="718.7">184</tspan><tspan x="958.7">146</tspan></text><text class="a c" y="90"><tspan x="238.7">189945</tspan><tspan x="478.7">191945</tspan><tspan x="718.7">192681</tspan><tspan x="958.7">193265</tspan></text><text class="a p" y="103"><tspan x="238.7">0.00%</tspan><tspan x="478.7">0.00%</tspan><tspan x="718.7">0.00%</tspan><tspan x="958.7">0.00%</tspan></text></g>
</g>
</g>
</svg>
